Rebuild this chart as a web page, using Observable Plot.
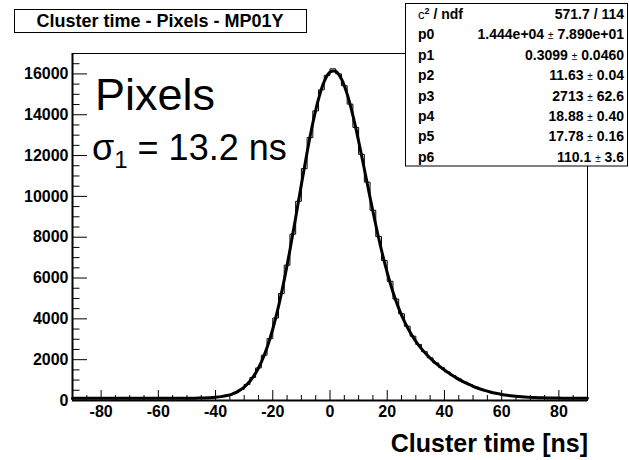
<!DOCTYPE html>
<html><head><meta charset="utf-8">
<script src="https://cdn.jsdelivr.net/npm/d3@7"></script>
<script src="https://cdn.jsdelivr.net/npm/@observablehq/plot@0.6"></script>
<style>
body{margin:0;background:#fff;}
#wrap{position:relative;width:629px;height:460px;overflow:hidden;background:#fff;}
#wrap svg{position:absolute;left:0;top:0;}
</style></head><body><div id="wrap"></div>
<script>
// Fit curve (every 2 ns)
const fitX = [-90,-88,-86,-84,-82,-80,-78,-76,-74,-72,-70,-68,-66,-64,-62,-60,-58,-56,-54,-52,-50,-48,-46,-44,-42,-40,-38,-36,-34,-32,-30,-28,-26,-24,-22,-20,-18,-16,-14,-12,-10,-8,-6,-4,-2,0,2,4,6,8,10,12,14,16,18,20,22,24,26,28,30,32,34,36,38,40,42,44,46,48,50,52,54,56,58,60,62,64,66,68,70,72,74,76,78,80,82,84,86,88,90];
const fitY = [110,110,110,110,110,110,110,110,110,110,110,110,110,110,110,110,110,111,111,112,113,115,118,125,137,157,190,243,329,459,656,941,1340,1882,2596,3502,4609,5909,7375,8958,10583,12162,13593,14777,15630,16089,16127,15752,15008,13964,12710,11340,9946,8600,7361,6262,5319,4527,3873,3338,2896,2528,2217,1946,1708,1493,1298,1122,964,822,697,589,496,417,351,297,253,218,191,170,153,141,132,126,121,117,115,113,112,112,111];
// Histogram bins (centres, 2 ns wide)
const histX = [-89,-87,-85,-83,-81,-79,-77,-75,-73,-71,-69,-67,-65,-63,-61,-59,-57,-55,-53,-51,-49,-47,-45,-43,-41,-39,-37,-35,-33,-31,-29,-27,-25,-23,-21,-19,-17,-15,-13,-11,-9,-7,-5,-3,-1,1,3,5,7,9,11,13,15,17,19,21,23,25,27,29,31,33,35,37,39,41,43,45,47,49,51,53,55,57,59,61,63,65,67,69,71,73,75,77,79,81,83,85,87,89];
const histY = [95,105,120,100,110,115,95,120,105,110,100,125,110,100,115,105,120,110,105,125,115,120,130,125,145,170,212,280,385,545,785,1125,1595,2220,3030,4040,5240,6630,8150,9760,11360,12880,14190,15220,15930,16250,16000,15420,14520,13380,12060,10700,9320,8030,6860,5840,4970,4250,3640,3150,2740,2390,2090,1840,1610,1400,1220,1050,900,770,650,545,460,385,325,275,238,205,180,165,150,138,128,125,118,115,112,110,115,108];

const xMajorTicks = [-80,-60,-40,-20,0,20,40,60,80];
const xMinorTicks = [-85,-75,-70,-65,-55,-50,-45,-35,-30,-25,-15,-10,-5,5,10,15,25,30,35,45,50,55,65,70,75,85];
const yMajorTicks = [0,2000,4000,6000,8000,10000,12000,14000,16000];
const yMinorTicks = [500,1000,1500,2500,3000,3500,4500,5000,5500,6500,7000,7500,8500,9000,9500,10500,11000,11500,12500,13000,13500,14500,15000,15500,16500];

const titleText = "Cluster time - Pixels - MP01Y";
const xTitle = "Cluster time [ns]";
const chiValue = "571.7 / 114";
const parNames = ["p0","p1","p2","p3","p4","p5","p6"];
const parValues = ["1.444e+04","0.3099","11.63","2713","18.88","17.78","110.1"];
const parErrors = ["7.890e+01","0.0460","0.04","62.6","0.40","0.16","3.6"];
const label1 = "Pixels";
const sigmaValue = "13.2 ns";

const W = 629, H = 460;
const mL = 72, mR = 42, mT = 53, mB = 60;
const fw = W - mL - mR, fh = H - mT - mB;

const hist = histX.map((x, i) => ({x, y: histY[i]}));
const fit = fitX.map((x, i) => ({x, y: fitY[i]}));

const plot = Plot.plot({
  width: W, height: H,
  marginLeft: mL, marginRight: mR, marginTop: mT, marginBottom: mB,
  style: {fontFamily: "'Liberation Sans', Arial, sans-serif", fontSize: "16px", fontWeight: "bold", background: "white", color: "black"},
  x: {domain: [-90, 90]},
  y: {domain: [0, 17000]},
  marks: [
    Plot.frame({stroke: "black", strokeWidth: 1}),
    Plot.line(hist, {x: "x", y: "y", curve: "step", stroke: "black", strokeWidth: 1}),
    Plot.line(fit, {x: "x", y: "y", curve: "catmull-rom", stroke: "black", strokeWidth: 3}),
    Plot.tickY(yMajorTicks, {y: d => d, insetRight: fw - 15, stroke: "black"}),
    Plot.tickY(yMinorTicks, {y: d => d, insetRight: fw - 7.5, stroke: "black"}),
    Plot.tickX(xMajorTicks, {x: d => d, insetTop: fh - 10, stroke: "black"}),
    Plot.tickX(xMinorTicks, {x: d => d, insetTop: fh - 5, stroke: "black"}),
    Plot.ruleX([-90], {stroke: "black", strokeWidth: 2}),
    Plot.ruleY([0], {stroke: "black", strokeWidth: 2}),
    Plot.axisX(xMajorTicks, {tickSize: 0, tickPadding: 5, tickFormat: d => String(d), label: null, fontWeight: "bold"}),
    Plot.axisY(yMajorTicks, {tickSize: 0, tickPadding: 4, tickFormat: d => String(d), label: null, fontWeight: "bold"})
  ]
});
document.getElementById("wrap").appendChild(plot);

// Overlay: title box, stats box, labels
const ov = d3.select("#wrap").append("svg").attr("width", W).attr("height", H)
  .style("font-family", "'Liberation Sans', Arial, sans-serif");

ov.append("rect").attr("x", 14.5).attr("y", 9.5).attr("width", 292).attr("height", 23)
  .attr("fill", "white").attr("stroke", "black");
ov.append("text").attr("x", 160).attr("y", 27).attr("text-anchor", "middle")
  .attr("font-size", 18).attr("font-weight", "bold").text(titleText);

ov.append("rect").attr("x", 405.5).attr("y", 3.5).attr("width", 222).attr("height", 162.5)
  .attr("fill", "white").attr("stroke", "black");

const rowY = i => 14 + 20.4 * i + 5;
const chi = ov.append("text").attr("x", 418).attr("y", rowY(0)).attr("font-size", 14).attr("font-weight", "bold");
chi.append("tspan").attr("font-weight", "normal").attr("font-size", 13).text("c");
chi.append("tspan").attr("font-size", 9).attr("dy", -5).text("2");
chi.append("tspan").attr("dy", 5).text(" / ndf");
ov.append("text").attr("x", 624).attr("y", rowY(0)).attr("text-anchor", "end")
  .attr("font-size", 14).attr("font-weight", "bold").text(chiValue);

parNames.forEach((p, i) => {
  ov.append("text").attr("x", 418).attr("y", rowY(i + 1)).attr("font-size", 14).attr("font-weight", "bold").text(p);
  const t = ov.append("text").attr("x", 624).attr("y", rowY(i + 1)).attr("text-anchor", "end")
    .attr("font-size", 14).attr("font-weight", "bold");
  t.append("tspan").text(parValues[i] + " ");
  t.append("tspan").attr("font-size", 10).attr("font-weight", "normal").text("±");
  t.append("tspan").text(" " + parErrors[i]);
});

ov.append("text").attr("x", 95).attr("y", 110).attr("font-size", 45).text(label1);
const sg = ov.append("text").attr("x", 92).attr("y", 160).attr("font-size", 36);
sg.append("tspan").text("σ");
sg.append("tspan").attr("font-size", 24).attr("dy", 8).text("1");
sg.append("tspan").attr("dy", -8).text(" = " + sigmaValue);

ov.append("text").attr("x", 588).attr("y", 452).attr("text-anchor", "end")
  .attr("font-size", 25).attr("font-weight", "bold").text(xTitle);
</script></body></html>
